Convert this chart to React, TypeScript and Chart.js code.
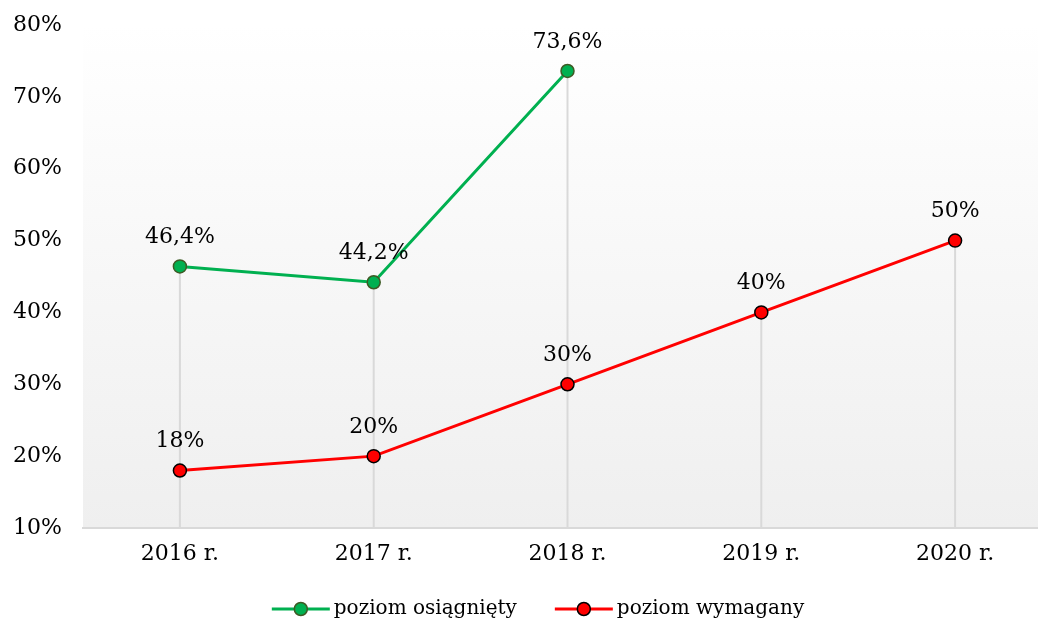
import React, { useEffect, useRef } from "react";
import { Chart, registerables } from "chart.js";

Chart.register(...registerables);

const categories = ["2016 r.", "2017 r.", "2018 r.", "2019 r.", "2020 r."];
const achieved: (number | null)[] = [46.4, 44.2, 73.6, null, null];
const required: number[] = [18, 20, 30, 40, 50];
const achievedLabels = ["46,4%", "44,2%", "73,6%", "", ""];
const requiredLabels = ["18%", "20%", "30%", "40%", "50%"];
const seriesNames = ["poziom osiągnięty", "poziom wymagany"];
const yTicks = [10, 20, 30, 40, 50, 60, 70, 80];

const FONT = "'DejaVu Serif', serif";
const GREEN = "#00b050";
const GREEN_BORDER = "#3d5a24";
const RED = "#ff0000";

const bgPlugin = {
  id: "bgGrad",
  beforeDraw(chart: any) {
    const { ctx, chartArea } = chart;
    const g = ctx.createLinearGradient(0, chartArea.top, 0, chartArea.bottom);
    g.addColorStop(0, "#ffffff");
    g.addColorStop(1, "#efefef");
    ctx.save();
    ctx.fillStyle = g;
    ctx.fillRect(chartArea.left, chartArea.top, chartArea.right - chartArea.left, chartArea.bottom - chartArea.top);
    ctx.restore();
  },
};

const dropLinePlugin = {
  id: "dropLines",
  beforeDatasetsDraw(chart: any) {
    const { ctx, chartArea, scales } = chart;
    ctx.save();
    ctx.strokeStyle = "#d9d9d9";
    ctx.lineWidth = 2;
    categories.forEach((_, i) => {
      const vals = [achieved[i], required[i]].filter((v) => v !== null) as number[];
      if (!vals.length) return;
      const top = Math.max(...vals);
      const x = scales.x.getPixelForValue(i);
      ctx.beginPath();
      ctx.moveTo(x, scales.y.getPixelForValue(top));
      ctx.lineTo(x, chartArea.bottom);
      ctx.stroke();
    });
    ctx.restore();
  },
};

const labelPlugin = {
  id: "valueLabels",
  afterDatasetsDraw(chart: any) {
    const { ctx } = chart;
    const labelSets = [achievedLabels, requiredLabels];
    ctx.save();
    ctx.font = `22px ${FONT}`;
    ctx.fillStyle = "#000";
    ctx.textAlign = "center";
    ctx.textBaseline = "middle";
    chart.data.datasets.forEach((ds: any, di: number) => {
      const meta = chart.getDatasetMeta(di);
      meta.data.forEach((pt: any, i: number) => {
        const txt = labelSets[di][i];
        if (!txt || ds.data[i] === null) return;
        ctx.fillText(txt, pt.x, pt.y - 29);
      });
    });
    ctx.restore();
  },
};

const legendPlugin = {
  id: "customLegend",
  afterDraw(chart: any) {
    const { ctx } = chart;
    const colors = [GREEN, RED];
    const borders = [GREEN_BORDER, "#000"];
    ctx.save();
    ctx.font = `20px ${FONT}`;
    const lineW = 58;
    const gapText = 4;
    const gapItem = 38;
    const widths = seriesNames.map((n) => lineW + gapText + ctx.measureText(n).width);
    const total = widths[0] + widths[1] + gapItem;
    let x = 538 - total / 2;
    const y = 609;
    seriesNames.forEach((name, i) => {
      ctx.strokeStyle = colors[i];
      ctx.lineWidth = 3;
      ctx.beginPath();
      ctx.moveTo(x, y);
      ctx.lineTo(x + lineW, y);
      ctx.stroke();
      ctx.beginPath();
      ctx.arc(x + lineW / 2, y, 6.5, 0, Math.PI * 2);
      ctx.fillStyle = colors[i];
      ctx.fill();
      ctx.lineWidth = 1.5;
      ctx.strokeStyle = borders[i];
      ctx.stroke();
      ctx.fillStyle = "#000";
      ctx.textAlign = "left";
      ctx.textBaseline = "middle";
      ctx.fillText(name, x + lineW + gapText, y);
      x += widths[i] + gapItem;
    });
    ctx.restore();
  },
};

export default function App() {
  const ref = useRef<HTMLCanvasElement>(null);
  useEffect(() => {
    if (!ref.current) return;
    const chart = new Chart(ref.current, {
      type: "line",
      data: {
        labels: categories,
        datasets: [
          {
            label: seriesNames[0],
            data: achieved,
            borderColor: GREEN,
            backgroundColor: GREEN,
            pointBackgroundColor: GREEN,
            pointBorderColor: GREEN_BORDER,
            pointBorderWidth: 1.5,
            pointRadius: 6.5,
            borderWidth: 3,
            tension: 0,
            spanGaps: false,
          },
          {
            label: seriesNames[1],
            data: required,
            borderColor: RED,
            backgroundColor: RED,
            pointBackgroundColor: RED,
            pointBorderColor: "#000",
            pointBorderWidth: 1.5,
            pointRadius: 6.5,
            borderWidth: 3,
            tension: 0,
          },
        ],
      },
      options: {
        responsive: false,
        animation: false,
        layout: { padding: { top: 25, right: 3, left: 0, bottom: 45 } },
        plugins: { legend: { display: false }, tooltip: { enabled: false } },
        scales: {
          x: {
            offset: true,
            grid: { display: false, drawTicks: false },
            border: { display: true, color: "#d9d9d9", width: 2 },
            ticks: { color: "#000", font: { family: FONT, size: 22 }, padding: 13 },
            afterFit: (s: any) => {
              s.height = 50;
              s.paddingTop = 0;
              s.paddingBottom = 0;
            },
          },
          y: {
            min: 10,
            max: 80,
            afterBuildTicks: (s: any) => {
              s.ticks = yTicks.map((v) => ({ value: v }));
            },
            grid: { display: false, drawTicks: false },
            border: { display: false },
            ticks: {
              color: "#000",
              font: { family: FONT, size: 22 },
              padding: 21,
              callback: (v: any) => `${v}%`,
            },
            afterFit: (s: any) => {
              s.width = 83;
              s.paddingTop = 0;
              s.paddingBottom = 0;
            },
          },
        },
      },
      plugins: [bgPlugin, dropLinePlugin, labelPlugin, legendPlugin],
    });
    return () => chart.destroy();
  }, []);
  return (
    <div style={{ position: "fixed", left: 0, top: 0, width: 1038, height: 623, overflow: "hidden", background: "#fff" }}>
      <canvas ref={ref} width={1060} height={623} style={{ display: "block" }} />
    </div>
  );
}
